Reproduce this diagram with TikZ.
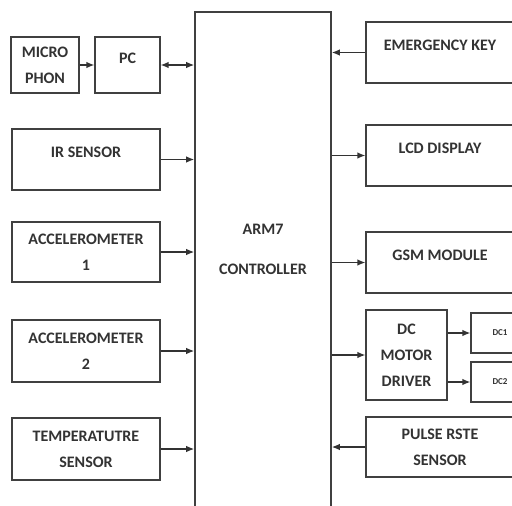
\documentclass[tikz,border=0pt]{standalone}
\usepackage{fontspec}
\setmainfont{Carlito}
\usetikzlibrary{positioning}
\usetikzlibrary{arrows.meta}
\tikzset{blk/.style = {draw=black!75, line width=1.2pt, align=center,
                       font=\bfseries\fontsize{16}{26}\selectfont,
                       inner sep=0, text=black!80}}
\tikzset{arr/.style = {draw=black!80, line width=1.3pt,
                       -{Latex[length=8pt,width=6.5pt]}}}
\tikzset{darr/.style = {draw=black!80, line width=1.3pt,
                        {Latex[length=8pt,width=6.5pt]}-{Latex[length=8pt,width=6.5pt]}}}

\begin{document}
\begin{tikzpicture}[x=1pt,y=-1pt]
    \clip (0,0) rectangle (512,506);
    \fill[white] (0,0) rectangle (512,506);

    % controller, open at the bottom
    \node[blk, line width=1.6pt, minimum width=136pt, minimum height=518pt] (ctrl) at (263,271) {};
    \node[font=\bfseries\fontsize{16}{40}\selectfont, align=center, text=black!80] (ctrltext) at (263,249) {ARM7\\CONTROLLER};

    % left column
    \node[blk, minimum width=68pt, minimum height=56pt] (mic) at (45,65) {MICRO\\PHON};
    \node[blk, minimum width=65pt, minimum height=56pt] (pc) at (127.5,65) {PC\\[-12pt]~};
    \node[blk, minimum width=148pt, minimum height=61pt] (ir) at (86,159.5) {IR SENSOR\\[-12pt]~};
    \node[blk, minimum width=148pt, minimum height=60pt] (accA) at (86,252) {ACCELEROMETER\\1};
    \node[blk, minimum width=148pt, minimum height=62pt] (accB) at (86,351) {ACCELEROMETER\\2};
    \node[blk, minimum width=148pt, minimum height=62pt] (temp) at (86,449) {TEMPERATUTRE\\SENSOR};

    % right column
    \node[blk, minimum width=148pt, minimum height=61pt] (emer) at (440,52.5) {EMERGENCY KEY\\[-12pt]~};
    \node[blk, minimum width=148pt, minimum height=61pt] (lcd) at (440,155.5) {LCD DISPLAY\\[-12pt]~};
    \node[blk, minimum width=148pt, minimum height=61pt] (gsm) at (440,262.5) {GSM MODULE\\[-12pt]~};
    \node[blk, minimum width=81pt, minimum height=90pt] (drv) at (406.5,355) {DC\\MOTOR\\DRIVER};
    \node[blk, minimum width=58pt, minimum height=40pt, font=\bfseries\fontsize{9}{11}\selectfont] (dcA) at (500,333) {DC1};
    \node[blk, minimum width=58pt, minimum height=40pt, font=\bfseries\fontsize{9}{11}\selectfont] (dcB) at (500,382) {DC2};
    \node[blk, minimum width=148pt, minimum height=60pt] (pulse) at (440,447) {PULSE RSTE\\SENSOR};

    % connectors
    \draw[arr] (mic) -- (pc);
    \draw[darr] (pc.east) -- (pc.east -| ctrl.west);
    \draw[arr] (ir.east) -- (ir.east -| ctrl.west);
    \draw[arr] (accA.east) -- (accA.east -| ctrl.west);
    \draw[arr] (accB.east) -- (accB.east -| ctrl.west);
    \draw[arr] (temp.east) -- (temp.east -| ctrl.west);
    \draw[arr] (emer.west) -- (emer.west -| ctrl.east);
    \draw[arr] (lcd.west -| ctrl.east) -- (lcd.west);
    \draw[arr] (gsm.west -| ctrl.east) -- (gsm.west);
    \draw[arr] (drv.west -| ctrl.east) -- (drv.west);
    \draw[arr] (dcA.west -| drv.east) -- (dcA.west);
    \draw[arr] (dcB.west -| drv.east) -- (dcB.west);
    \draw[arr] (pulse.west) -- (pulse.west -| ctrl.east);
\end{tikzpicture}
\end{document}
